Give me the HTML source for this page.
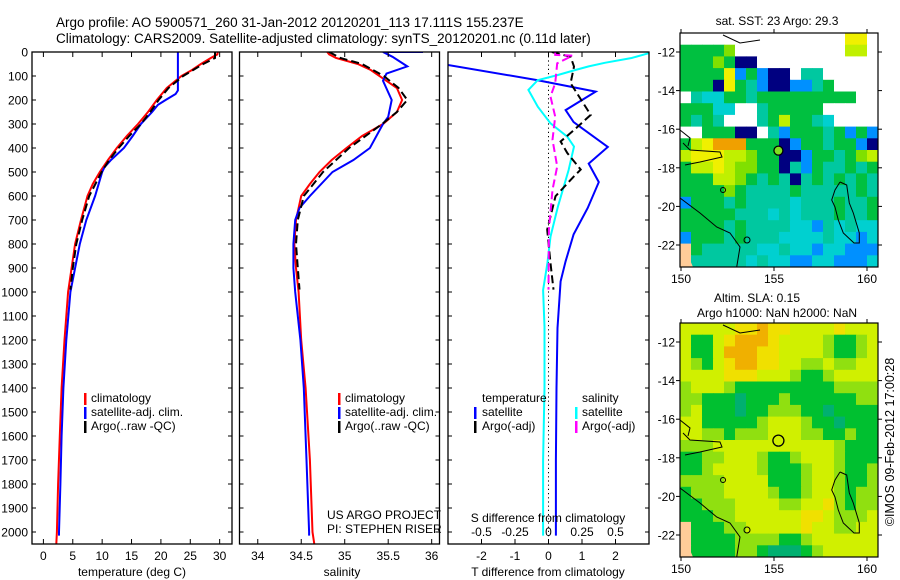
<!DOCTYPE html>
<html><head><meta charset="utf-8"><style>
html,body{margin:0;padding:0;background:#fff;}
svg{display:block;font-family:"Liberation Sans",sans-serif;}
</style></head><body>
<svg id="fig" width="900" height="580" viewBox="0 0 900 580" xmlns="http://www.w3.org/2000/svg">
<text x="56" y="27" font-size="13.5">Argo profile: AO 5900571_260 31-Jan-2012 20120201_113 17.111S 155.237E</text>
<text x="56" y="43" font-size="13.5">Climatology: CARS2009. Satellite-adjusted climatology: synTS_20120201.nc (0.11d later)</text>
<g id="maps"></g>
<g id="panels"></g>
<text transform="translate(894,442) rotate(-90)" text-anchor="middle" font-size="12.5">©IMOS 09-Feb-2012 17:00:28</text>
</svg>
<script>
// ---------- profile data ----------
const tClimDepth = [0,10,25,50,75,100,150,200,250,300,350,400,450,500,550,600,700,800,900,1000,1200,1400,1600,1800,2000,2050];
const tClimVal   = [29.7,29.6,28.5,26.8,25.3,23.5,21,19.3,17.8,16.1,14.2,12.5,11,9.6,8.4,7.5,6.4,5.4,4.8,4.2,3.6,3.1,2.8,2.5,2.3,2.2];
const tSatDepth  = [0,160,175,200,220,250,300,350,400,450,480,500,600,700,800,900,1000,1200,1400,1600,1800,2000,2015];
const tSatVal    = [22.9,22.9,22.5,20.8,19.5,18.5,16.6,15.2,13.7,11.5,10.4,10.0,8.8,7.3,6.2,5.4,4.6,3.9,3.4,3.1,2.9,2.65,2.65];
const tArgoDepth = [0,25,50,75,100,150,200,250,300,350,400,450,500,600,700,800,900,990];
const tArgoVal   = [29.2,29.2,27.2,25.5,23.8,21.3,19.6,18.2,16.6,14.6,12.8,11.2,9.9,7.8,6.6,5.6,5.0,4.6];

const sClimDepth = [0,10,25,50,75,100,150,200,250,300,350,400,450,500,550,600,700,800,900,1000,1200,1400,1700,2000,2050];
const sClimVal   = [34.8,34.82,34.9,35.15,35.3,35.4,35.6,35.66,35.6,35.44,35.2,35.02,34.85,34.71,34.6,34.5,34.44,34.42,34.44,34.47,34.5,34.55,34.6,34.63,34.65];
const sSatDepth  = [0,0,20,60,90,120,200,270,300,400,450,500,600,650,700,800,900,1000,1200,1400,1700,2000,2015];
const sSatVal    = [35.9,35.44,35.55,35.72,35.48,35.44,35.54,35.5,35.44,35.29,35.1,34.86,34.6,34.48,34.43,34.41,34.41,34.43,34.49,34.53,34.56,34.59,34.59];
const sArgoDepth = [0,25,50,100,150,200,250,300,400,500,600,700,800,900,990];
const sArgoVal   = [34.82,34.95,35.2,35.45,35.62,35.72,35.6,35.43,35.05,34.75,34.53,34.46,34.44,34.46,34.48];

const dtSatDepth = [0,54,117,165,242,292,396,465,542,650,760,872,956,1150,1400,1700,2015];
const dtSatVal   = [-6.5,-3,-0.34,1.41,0.51,0.75,1.77,1.2,1.5,1.17,0.75,0.51,0.36,0.27,0.24,0.22,0.22];
const dsSatDepth = [0,25,45,60,75,96,117,158,228,297,353,394,492,644,769,880,992,1144,1400,1700,2015];
const dsSatVal   = [0.78,0.62,0.42,0.3,0.2,0.07,-0.08,-0.15,-0.08,0.015,0.14,0.19,0.15,0.07,0.015,-0.008,-0.04,-0.03,-0.03,-0.04,-0.04];
const dtArgoDepth = [0,20,61,130,262,325,373,421,490,518,601,685,740,880,990];
const dtArgoVal   = [0.1,0.66,0.76,0.66,1.26,0.76,0.36,0.56,0.96,0.76,0.21,0.06,-0.04,0.06,0.15];
const dsArgoDepth = [0,12,15,47,130,186,269,366,477,574,740,990];
const dsArgoVal   = [0.05,0.05,0.18,0.065,0.05,0.015,0.05,0.03,0.065,0.03,0.003,0];

const depthTicks = [0,100,200,300,400,500,600,700,800,900,1000,1100,1200,1300,1400,1500,1600,1700,1800,1900,2000];
const tempTicks = [0,5,10,15,20,25,30];
const salTicks = [34,34.5,35,35.5,36];
const salTickLabels = ["34","34.5","35","35.5","36"];
const dtTicks = [-2,-1,0,1,2];
const dsTicks = [-0.5,-0.25,0,0.25,0.5];
const dsTickLabels = ["-0.5","-0.25","0","0.25","0.5"];

// ---------- map data (cell colour codes) ----------
const sstRows = [
"WWWWWWWWWWWWWWWYYW",
"gggglWWWWWWWWWWyyW",
"ggglgBBWWWWWWWWWWW",
"ggggYbgbBBWccWWWWW",
"gggBYgcbBBbbcgWWWW",
"WcCCggcgggggggggWW",
"gggCCWWcgggggWWWWW",
"gcgcWWWcgyggcCWWWW",
"WWgggBBWcbgggcgbgb",
"gyYooogggBbggcggbB",
"yYYYyylggBBbggcgly",
"gyyYyllggBcbgccgcg",
"gggyylgcgcBcgcgcgc",
"gggglgccccgcccccgc",
"bgggcgccccCcccgccg",
"gggggcccCcCcccgccg",
"ggggcgccccCCbcCcCC",
"bgggcgcccCCCCcCCbC",
"sgcccccCCcCCbCCbbb",
"scccccCcCCbbCCbbbC"];
const slaRows = [
"yyyyyYYoYYyyyyYyyy",
"yGGyYoooYyyyyLGGLy",
"yGGyoooYYyyyyLGGLy",
"yLGyYooYYyyLLyLLyy",
"yyyyYYYyyyLGGLyyyy",
"LyyyLGGGGGGGGGLLLL",
"LLGGGtGGGLGGGGGGLL",
"LyGGGtGGLLLGGtGGGG",
"yyGGGGGLyyyLGGtGGG",
"yyLLGLLLyyyLLGGLGG",
"LLLyyyyyyyyyyyLGGG",
"GGLLyyyLGGLyyyLGGG",
"GGLyyyyLGGGLyyLGGL",
"LLLLyyyyGGGLyyLGGL",
"GLLLyyyyLGGLyyLGLL",
"GGLLLyyyyLLyyYLGLL",
"GGGLLyyyyyyYYyLLLy",
"sGGGLLyyyyyYyyLLyy",
"sGGGGLLLLGGLyyyyyy",
"sGGGGLLGtttGLyyyyy"];
const mapLatTicks = [-12,-14,-16,-18,-20,-22];
const mapLonTicks = [150,155,160];

const NS="http://www.w3.org/2000/svg";
function mk(tag, attrs, parent){const e=document.createElementNS(NS,tag);for(const k in attrs)e.setAttribute(k,attrs[k]);parent.appendChild(e);return e;}

const panelsG=document.getElementById('panels');
const Y0=52, PXPER=0.24, YBOT=544;
function yD(d){return Y0+d*PXPER;}

function panel(name,x0,x1,xmin,xmax){
  const g=mk('g',{},panelsG);
  
  
  const cp=mk('clipPath',{id:'cp-'+name},g);
  mk('rect',{x:x0,y:Y0,width:x1-x0,height:YBOT-Y0},cp);
  const xs=v=>x0+(v-xmin)/(xmax-xmin)*(x1-x0);
  return {g,xs,x0,x1,clip:'url(#cp-'+name+')'};
}
function frame(p){
  const r=mk('rect',{x:p.x0,y:Y0,width:p.x1-p.x0,height:YBOT-Y0,fill:'none',stroke:'#000','stroke-width':1.3},p.g);
  
  
  depthTicks.forEach(d=>{
    mk('line',{x1:p.x0,x2:p.x0+4,y1:yD(d),y2:yD(d),stroke:'#000'},p.g);
    mk('line',{x1:p.x1,x2:p.x1-4,y1:yD(d),y2:yD(d),stroke:'#000'},p.g);
  });
}
function line(p,depths,vals,xsF,color,name,dash,w){
  const pts=depths.map((d,i)=>xsF(vals[i]).toFixed(1)+','+yD(d).toFixed(1)).join(' ');
  const a={points:pts,fill:'none',stroke:color,'stroke-width':w||2,'clip-path':p.clip};
  if(dash)a['stroke-dasharray']=dash;
  const el=mk('polyline',a,p.g);
  
  
}
function xTicks(p,ticks,labels,xsF,y,name){
  ticks.forEach((t,i)=>{
    const x=xsF(t);
    mk('line',{x1:x,x2:x,y1:Y0,y2:Y0+5,stroke:'#000'},p.g);
    mk('line',{x1:x,x2:x,y1:YBOT,y2:YBOT-5,stroke:'#000'},p.g);
    const tx=mk('text',{x:x,y:y,'text-anchor':'middle','font-size':12},p.g);
    tx.textContent=labels[i];
    
    
  });
}
function txt(p,x,y,s,name,anchor,size){
  const t=mk('text',{x:x,y:y,'font-size':size||12,'text-anchor':anchor||'start'},p.g);
  t.textContent=s;
  
  
}
function legendBar(p,x,y,color,name){
  const r=mk('rect',{x:x,y:y-10,width:2.5,height:12,fill:color},p.g);
  
  
}

// depth tick labels
const depthG=mk('g',{},panelsG);


depthTicks.forEach(d=>{
  const t=mk('text',{x:28,y:yD(d)+4.5,'text-anchor':'end','font-size':12},depthG);
  t.textContent=String(d);
  
  
});

// Panel 1 temperature
const p1=panel('temperature-panel',32,232,-1.94,32.1);
line(p1,tClimDepth,tClimVal,p1.xs,'#ff0000','temp-climatology-line');
line(p1,tSatDepth,tSatVal,p1.xs,'#0000ff','temp-satellite-line');
line(p1,tArgoDepth,tArgoVal,p1.xs,'#000','temp-argo-line','8,4');
frame(p1);
xTicks(p1,tempTicks,tempTicks.map(String),p1.xs,560,'temp-tick-label');
txt(p1,132,576,'temperature (deg C)','temp-axis-title','middle');
legendBar(p1,84,403,'#ff0000','legend-climatology');txt(p1,91,402,'climatology','legend-text');
legendBar(p1,84,417,'#0000ff','legend-satellite');txt(p1,91,416,'satellite-adj. clim.','legend-text');
legendBar(p1,84,431,'#000','legend-argo');txt(p1,91,430,'Argo(..raw -QC)','legend-text');

// Panel 2 salinity
const p2=panel('salinity-panel',239.5,439.5,33.79,36.09);
line(p2,sClimDepth,sClimVal,p2.xs,'#ff0000','sal-climatology-line');
line(p2,sSatDepth,sSatVal,p2.xs,'#0000ff','sal-satellite-line');
line(p2,sArgoDepth,sArgoVal,p2.xs,'#000','sal-argo-line','8,4');
frame(p2);
xTicks(p2,salTicks,salTickLabels,p2.xs,560,'sal-tick-label');
txt(p2,342,576,'salinity','sal-axis-title','middle');
legendBar(p2,338,403,'#ff0000','legend-climatology');txt(p2,345,402,'climatology','legend-text');
legendBar(p2,338,417,'#0000ff','legend-satellite');txt(p2,345,416,'satellite-adj. clim.','legend-text');
legendBar(p2,338,431,'#000','legend-argo');txt(p2,345,430,'Argo(..raw -QC)','legend-text');
txt(p2,327,519,'US ARGO PROJECT','project-label');
txt(p2,327,533,'PI: STEPHEN RISER','pi-label');

// Panel 3 differences
const p3=panel('difference-panel',448,649,-3,3);
const xsS=v=>p3.xs(v*4);
mk('line',{x1:p3.xs(0),x2:p3.xs(0),y1:Y0,y2:YBOT,stroke:'#000','stroke-dasharray':'1.2,3'},p3.g);
line(p3,dtSatDepth,dtSatVal,p3.xs,'#0000ff','dT-satellite-line');
line(p3,dsSatDepth,dsSatVal,xsS,'#00ffff','dS-satellite-line');
line(p3,dtArgoDepth,dtArgoVal,p3.xs,'#000','dT-argo-line','8,4');
line(p3,dsArgoDepth,dsArgoVal,xsS,'#ff00ff','dS-argo-line','8,4');
frame(p3);
dtTicks.forEach(t=>{
  const x=p3.xs(t);
  mk('line',{x1:x,x2:x,y1:Y0,y2:Y0+5,stroke:'#000'},p3.g);
  mk('line',{x1:x,x2:x,y1:YBOT,y2:YBOT-5,stroke:'#000'},p3.g);
  const tx=mk('text',{x:x,y:560,'text-anchor':'middle','font-size':12},p3.g);
  tx.textContent=String(t);
  
  
});
dsTicks.forEach((t,i)=>{
  const tx=mk('text',{x:xsS(t),y:536,'text-anchor':'middle','font-size':12},p3.g);
  tx.textContent=dsTickLabels[i];
  
  
});
txt(p3,548,576,'T difference from climatology','dT-axis-title','middle');
txt(p3,548,522,'S difference from climatology','dS-axis-title','middle');
txt(p3,482,402,'temperature','legend-heading-temperature');
txt(p3,582,402,'salinity','legend-heading-salinity');
legendBar(p3,474,417,'#0000ff','legend-dT-satellite');txt(p3,482,416,'satellite','legend-text');
legendBar(p3,474,431,'#000','legend-dT-argo');txt(p3,482,430,'Argo(-adj)','legend-text');
legendBar(p3,575,417,'#00ffff','legend-dS-satellite');txt(p3,582,416,'satellite','legend-text');
legendBar(p3,575,431,'#ff00ff','legend-dS-argo');txt(p3,582,430,'Argo(-adj)','legend-text');

// ---------- maps ----------
const mapsG=document.getElementById('maps');
const MX0=680, MX1=878, MH=234;
const lonX=lon=>681+(lon-150)*18.6;
const latY=(lat,off)=>52+off+(-12-lat)*19.3;
const sstColors={W:'#ffffff',g:'#00c040',G:'#00d000',c:'#00c8a0',C:'#00d0d0',b:'#0090ff',B:'#000080',y:'#c0f000',Y:'#f0f000',o:'#f0a000',l:'#80e000',s:'#ffcc99'};
const slaColors={y:'#d0f000',Y:'#f0e000',o:'#f0b000',G:'#00c030',L:'#90e010',t:'#00b070',s:'#ffcc99'};
const coast=[
 "840,182 846.7,185 849.3,203 853.3,213 859.3,233 859.3,243 854,243 843.3,233 838.3,220 835,207 831.7,200 835,190 840,182",
 "680,198 700,213 716.7,227 730,233 740,247 736.7,267",
 "683,143 690,150 720,152 722,157 700,162 685,165",
 "723,35 740,43 760,40",
 "680,130 690,138 688,146"];
function drawMap(name,rows,colors,off,title1,title2,filledMarker){
  const g=mk('g',{},mapsG);
  
  
  const top=33+off;
  const nr=rows.length,nc=rows[0].length;
  const cw=(MX1-MX0)/nc,ch=MH/nr;
  rows.forEach((row,r)=>{
    for(let c=0;c<nc;c++){
      const cell=mk('rect',{x:(MX0+c*cw).toFixed(2),y:(top+r*ch).toFixed(2),width:(cw+0.4).toFixed(2),height:(ch+0.4).toFixed(2),fill:colors[row[c]]},g);
      
      
    }
  });
  coast.forEach(pts=>{
    const shifted=pts.split(' ').map(p=>{const [x,y]=p.split(',').map(Number);return x+','+(y+off);}).join(' ');
    const c=mk('polyline',{points:shifted,fill:'none',stroke:'#000','stroke-width':1},g);
    
    
  });
  mk('polygon',{points:`680,${247+off} 687,${253+off} 693,${267+off} 680,${267+off}`,fill:'#ffcc99'},g);
  mk('circle',{cx:723,cy:190+off,r:2.5,fill:'none',stroke:'#000'},g);
  mk('circle',{cx:747,cy:240+off,r:3,fill:'none',stroke:'#000'},g);
  const fr=mk('rect',{x:MX0,y:top,width:MX1-MX0,height:MH,fill:'none',stroke:'#000','stroke-width':1.2},g);
  
  
  const mkr=mk('circle',{cx:lonX(155.237),cy:latY(-17.111,off),r:filledMarker?4.5:5.5,fill:filledMarker?'#80e020':'none',stroke:'#000','stroke-width':1.3},g);
  
  
  mapLatTicks.forEach(l=>{
    const y=latY(l,off);
    mk('line',{x1:MX0-4,x2:MX0,y1:y,y2:y,stroke:'#000'},g);
    mk('line',{x1:MX1,x2:MX1+4,y1:y,y2:y,stroke:'#000'},g);
    const t=mk('text',{x:MX0-5,y:y+4.5,'text-anchor':'end','font-size':12},g);
    t.textContent=String(l);
    
    
  });
  mapLonTicks.forEach(l=>{
    const x=lonX(l);
    mk('line',{x1:x,x2:x,y1:top-4,y2:top,stroke:'#000'},g);
    mk('line',{x1:x,x2:x,y1:top+MH,y2:top+MH+4,stroke:'#000'},g);
    const t=mk('text',{x:x,y:top+MH+16,'text-anchor':'middle','font-size':12},g);
    t.textContent=String(l);
    
    
  });
  if(title1){const t=mk('text',{x:title1[1],y:title1[2],'text-anchor':'middle','font-size':12},g);t.textContent=title1[0];}
  if(title2){const t=mk('text',{x:title2[1],y:title2[2],'text-anchor':'middle','font-size':12},g);t.textContent=title2[0];}
}
drawMap('sst-map',sstRows,sstColors,0,['sat. SST: 23 Argo: 29.3',777,25],null,true);
drawMap('sla-map',slaRows,slaColors,290,['Altim. SLA: 0.15',757,302],['Argo h1000: NaN h2000: NaN',777,317],false);
</script>
</body></html>
